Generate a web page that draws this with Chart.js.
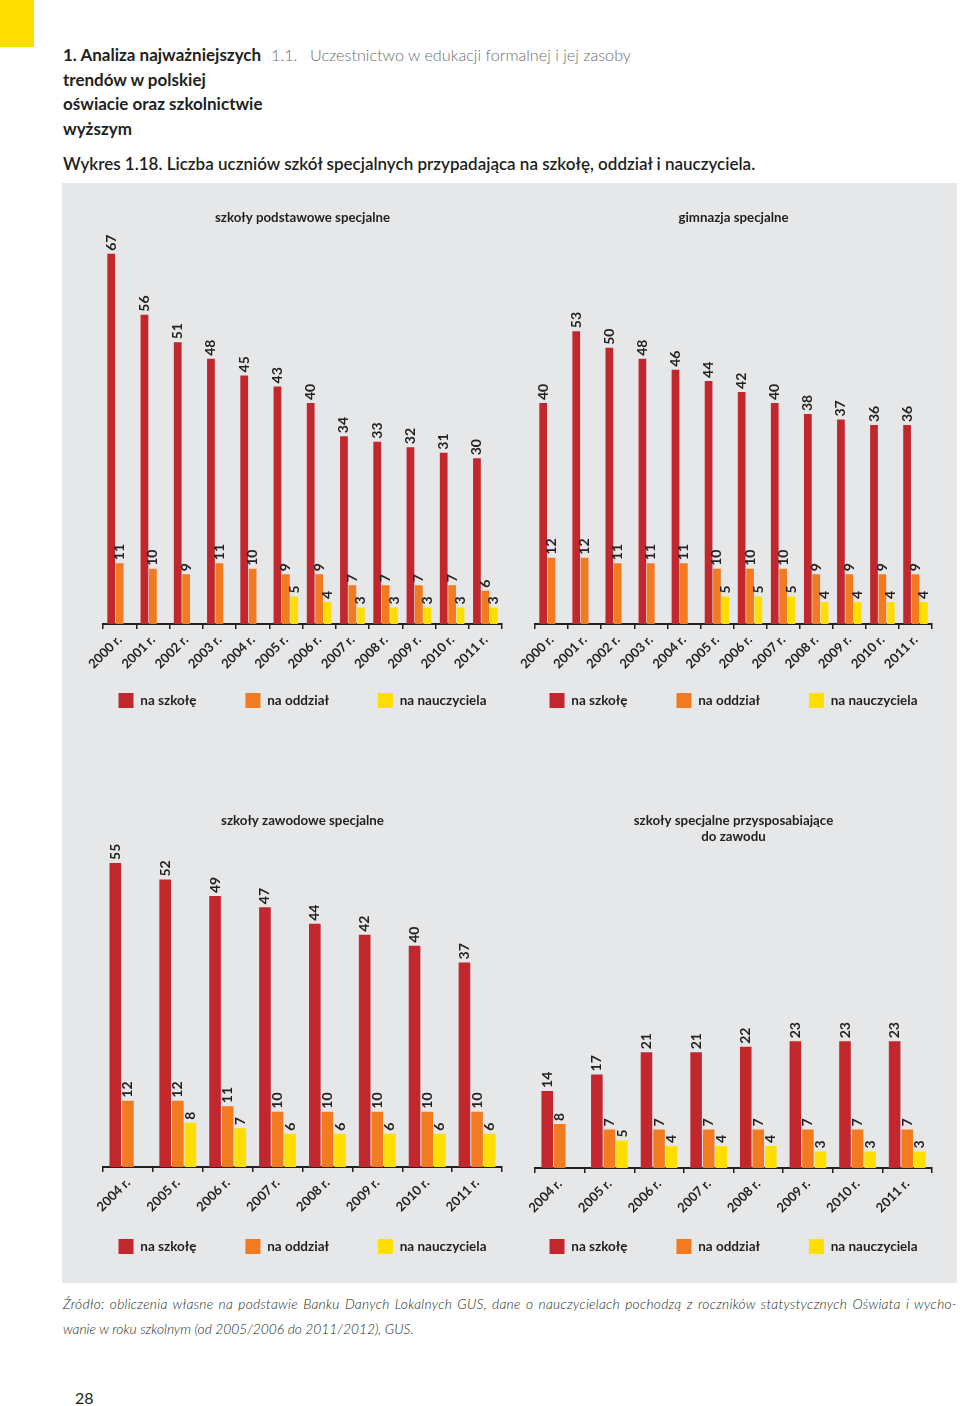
<!DOCTYPE html>
<html lang="pl">
<head>
<meta charset="UTF-8">
<title>Wykres 1.18</title>
<style>
  body { margin: 0; background: #fff; font-family: Lato, sans-serif; color: #231f20; }
  #page { position: relative; width: 960px; height: 1406px; overflow: hidden; }
  .tab { position: absolute; left: 0; top: 0; width: 34px; height: 47px; background: #ffde00; }
  .head { position: absolute; top: 43px; font-size: 17px; line-height: 24.5px; white-space: nowrap; }
  .bold { font-weight: 700; }
  .light { font-weight: 300; color: #6d6e71; font-size: 16.2px; }
  .caption { position: absolute; left: 63px; top: 152px; font-size: 17px; line-height: 24px; font-weight: 600; white-space: nowrap; }
  .box { position: absolute; left: 62px; top: 183px; width: 895px; height: 1100px; background: #e6e7e8; }
  canvas { position: absolute; }
  .source { position: absolute; left: 63px; top: 1292px; width: 894px; font-size: 13.8px; line-height: 24.5px; font-style: italic; font-weight: 300; color: #231f20; }
  .source div { white-space: nowrap; }
  .source .j { text-align: justify; text-align-last: justify; letter-spacing: 0.25px; }
  .pnum { position: absolute; left: 75px; top: 1386px; font-size: 16px; line-height: 24px; }
</style>
</head>
<body>
<div id="page">
  <div class="tab"></div>
  <div class="head bold" style="left:63px">1. Analiza najważniejszych<br>trendów w polskiej<br>oświacie oraz szkolnictwie<br>wyższym</div>
  <div class="head light" style="left:271px">1.1.</div>
  <div class="head light" style="left:310px">Uczestnictwo w edukacji formalnej i jej zasoby</div>
  <div class="caption">Wykres 1.18. Liczba uczniów szkół specjalnych przypadająca na szkołę, oddział i nauczyciela.</div>
  <div class="box"></div>

  <canvas id="c1" width="481" height="519" style="left:62px;top:199px"></canvas>
  <canvas id="c2" width="487" height="519" style="left:490px;top:199px"></canvas>
  <canvas id="c3" width="481" height="462" style="left:62px;top:802px"></canvas>
  <canvas id="c4" width="487" height="462" style="left:490px;top:802px"></canvas>

  <div class="source">
    <div class="j">Źródło: obliczenia własne na podstawie Banku Danych Lokalnych GUS, dane o nauczycielach pochodzą z roczników statystycznych Oświata i wycho-</div>
    <div>wanie w roku szkolnym (od 2005/2006 do 2011/2012), GUS.</div>
  </div>
  <div class="pnum">28</div>
</div>

<script src="https://cdn.jsdelivr.net/npm/chart.js@4.4.0/dist/chart.umd.min.js"></script>
<script>
  // categories
  var years2000 = ['2000 r.', '2001 r.', '2002 r.', '2003 r.', '2004 r.', '2005 r.', '2006 r.', '2007 r.', '2008 r.', '2009 r.', '2010 r.', '2011 r.'];
  var years2004 = ['2004 r.', '2005 r.', '2006 r.', '2007 r.', '2008 r.', '2009 r.', '2010 r.', '2011 r.'];
  var seriesNames = ['na szkołę', 'na oddział', 'na nauczyciela'];

  // szkoły podstawowe specjalne
  var podstSzkola = [67, 56, 51, 48, 45, 43, 40, 34, 33, 32, 31, 30];
  var podstOddzial = [11, 10, 9, 11, 10, 9, 9, 7, 7, 7, 7, 6];
  var podstNauczyciel = [null, null, null, null, null, 5, 4, 3, 3, 3, 3, 3];

  // gimnazja specjalne
  var gimSzkola = [40, 53, 50, 48, 46, 44, 42, 40, 38, 37, 36, 36];
  var gimOddzial = [12, 12, 11, 11, 11, 10, 10, 10, 9, 9, 9, 9];
  var gimNauczyciel = [null, null, null, null, null, 5, 5, 5, 4, 4, 4, 4];

  // szkoły zawodowe specjalne
  var zawSzkola = [55, 52, 49, 47, 44, 42, 40, 37];
  var zawOddzial = [12, 12, 11, 10, 10, 10, 10, 10];
  var zawNauczyciel = [null, 8, 7, 6, 6, 6, 6, 6];

  // szkoły specjalne przysposabiające do zawodu
  var przySzkola = [14, 17, 21, 21, 22, 23, 23, 23];
  var przyOddzial = [8, 7, 7, 7, 7, 7, 7, 7];
  var przyNauczyciel = [null, 5, 4, 4, 4, 3, 3, 3];

  var RED = '#c1272d', ORANGE = '#f27a21', YELLOW = '#ffde00', INK = '#231f20';
  var FONT = 'Lato';
  var LEGEND_PAD = 49;

  // rotated value labels above the bars
  var valueLabels = {
    id: 'valueLabels',
    afterDatasetsDraw: function (chart) {
      var ctx = chart.ctx;
      ctx.save();
      ctx.font = 'bold 14px ' + FONT;
      ctx.fillStyle = INK;
      ctx.textAlign = 'left';
      ctx.textBaseline = 'middle';
      chart.data.datasets.forEach(function (ds, i) {
        chart.getDatasetMeta(i).data.forEach(function (bar, j) {
          var v = ds.data[j];
          if (v === null || v === undefined) return;
          ctx.save();
          ctx.translate(bar.x, bar.y - 3);
          ctx.rotate(-Math.PI / 2);
          ctx.fillText(String(v), 0, 0);
          ctx.restore();
        });
      });
      ctx.restore();
    }
  };

  // invisible side axis, only used to reserve room next to the plot
  function spacer(pos, w) {
    return {
      position: pos, display: true,
      ticks: { display: false }, grid: { display: false }, border: { display: false },
      afterFit: function (scale) { scale.width = w; }
    };
  }

  function drawChart(id, title, labels, szkola, oddzial, nauczyciel, yMax, padL, padR, axisH) {
    return new Chart(document.getElementById(id), {
      type: 'bar',
      data: {
        labels: labels,
        datasets: [
          { label: seriesNames[0], data: szkola, backgroundColor: RED },
          { label: seriesNames[1], data: oddzial, backgroundColor: ORANGE },
          { label: seriesNames[2], data: nauczyciel, backgroundColor: YELLOW }
        ]
      },
      options: {
        responsive: false,
        animation: false,
        layout: { padding: 0 },
        datasets: { bar: { categoryPercentage: 0.76, barPercentage: 0.92 } },
        scales: {
          x: {
            grid: { drawOnChartArea: false, color: INK, lineWidth: 1.5, tickLength: 5 },
            border: { color: INK, width: 2 },
            ticks: { color: INK, font: { family: FONT, size: 13, weight: 'bold' }, minRotation: 45, maxRotation: 45, padding: 3 },
            afterFit: function (scale) {
              // keep the box short so the legend sits close; labels may hang below it
              scale.height = axisH - LEGEND_PAD + 42;
              scale._computeLabelArea = function () { return undefined; };
            }
          },
          y: Object.assign(spacer('left', padL), { min: 0, max: yMax }),
          yRight: spacer('right', padR)
        },
        plugins: {
          title: {
            display: true, text: title, color: INK,
            font: { family: FONT, size: 13.3, weight: 'bold', lineHeight: 1.25 },
            padding: { top: 10, bottom: 10 }
          },
          legend: {
            position: 'bottom',
            labels: { boxWidth: 15, boxHeight: 15, padding: LEGEND_PAD, color: INK, font: { family: FONT, size: 13.5, weight: 'bold' } }
          },
          tooltip: { enabled: false }
        }
      },
      plugins: [valueLabels]
    });
  }

  drawChart('c1', 'szkoły podstawowe specjalne', years2000, podstSzkola, podstOddzial, podstNauczyciel, 70.3, 41, 41, 27);
  drawChart('c2', 'gimnazja specjalne', years2000, gimSzkola, gimOddzial, gimNauczyciel, 70.3, 45, 45, 27);
  drawChart('c3', 'szkoły zawodowe specjalne', years2004, zawSzkola, zawOddzial, zawNauczyciel, 59.4, 41, 41, 30);
  drawChart('c4', ['szkoły specjalne przysposabiające', 'do zawodu'], years2004, przySzkola, przyOddzial, przyNauczyciel, 56.8, 45, 45, 29);
</script>
</body>
</html>
